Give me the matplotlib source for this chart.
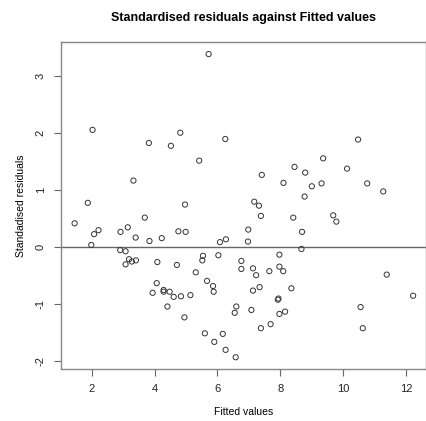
import matplotlib
matplotlib.use("Agg")
import matplotlib.pyplot as plt

plt.rcParams['font.family'] = ['Liberation Sans', 'DejaVu Sans']

# fitted values and standardised residuals
fitted = [5.72, 2.03, 3.82, 4.52, 4.82, 6.25, 5.42, 3.33, 1.88, 4.97,
          10.47, 9.36, 8.45, 10.12, 8.79, 7.41, 8.10, 9.00, 9.31, 10.76,
          11.27, 8.77, 7.17, 7.32, 7.38, 8.41, 9.68, 9.78, 6.98, 8.69,
          6.97, 8.67, 7.97, 6.76, 6.76, 7.13, 7.23, 7.65, 7.97, 8.09,
          11.38, 7.13, 7.34, 8.35, 12.22, 7.92, 7.94, 6.60, 6.55, 7.08,
          7.97, 8.15, 10.55, 7.69, 7.38, 10.62, 6.58,
          1.46, 3.69, 2.08, 2.22, 2.92, 3.15, 3.40, 1.99, 3.84, 4.23,
          4.76, 4.99, 6.08, 6.27, 2.91, 3.08, 3.19, 3.28, 3.41, 3.08,
          4.09, 4.71, 5.54, 5.52, 6.03, 5.31, 4.07, 3.94, 4.29, 4.29,
          4.48, 4.61, 4.84, 5.14, 5.67, 5.86, 5.88, 4.41, 4.95, 5.60,
          6.17, 5.90, 6.26]
std_resid = [3.39, 2.06, 1.83, 1.78, 2.01, 1.90, 1.52, 1.17, 0.78, 0.75,
             1.89, 1.56, 1.41, 1.38, 1.31, 1.27, 1.13, 1.07, 1.12, 1.12,
             0.98, 0.89, 0.80, 0.73, 0.55, 0.52, 0.56, 0.45, 0.31, 0.27,
             0.10, -0.03, -0.13, -0.24, -0.38, -0.37, -0.49, -0.42, -0.34, -0.42,
             -0.48, -0.76, -0.70, -0.72, -0.85, -0.92, -0.90, -1.04, -1.15, -1.10,
             -1.17, -1.13, -1.05, -1.35, -1.42, -1.42, -1.93,
             0.42, 0.52, 0.23, 0.30, 0.27, 0.35, 0.17, 0.04, 0.11, 0.16,
             0.28, 0.27, 0.09, 0.14, -0.05, -0.07, -0.21, -0.25, -0.23, -0.30,
             -0.26, -0.31, -0.15, -0.23, -0.14, -0.44, -0.63, -0.80, -0.75, -0.78,
             -0.78, -0.87, -0.86, -0.84, -0.59, -0.68, -0.78, -1.04, -1.23, -1.51,
             -1.52, -1.66, -1.80]

xticks = [2, 4, 6, 8, 10, 12]
yticks = [-2, -1, 0, 1, 2, 3]

fig = plt.figure(figsize=(4.27, 4.21), dpi=100)
ax = fig.add_axes([0.143, 0.123, 0.854, 0.777])

ax.scatter(fitted, std_resid, s=14, facecolors='none', edgecolors='#333333',
           linewidths=0.7, zorder=3)
ax.axhline(0, color='#666666', linewidth=1.0)

ax.set_xlim(1.03, 12.62)
ax.set_ylim(-2.14, 3.60)
ax.set_xticks(xticks)
ax.set_yticks(yticks)
ax.set_yticklabels([str(v) for v in yticks], rotation=90, va='center')

for s in ax.spines.values():
    s.set_color('#888888')
    s.set_linewidth(1.0)
ax.tick_params(length=5, width=0.8, color='#666666', labelsize=8,
               labelcolor='#222222', pad=6)

ax.set_title('Standardised residuals against Fitted values', fontsize=9,
             fontweight='bold', pad=15)
ax.set_xlabel('Fitted values', fontsize=7.5, labelpad=9)
ax.set_ylabel('Standadised residuals', fontsize=7.5, labelpad=7)

fig.savefig('out.png', dpi=100)
